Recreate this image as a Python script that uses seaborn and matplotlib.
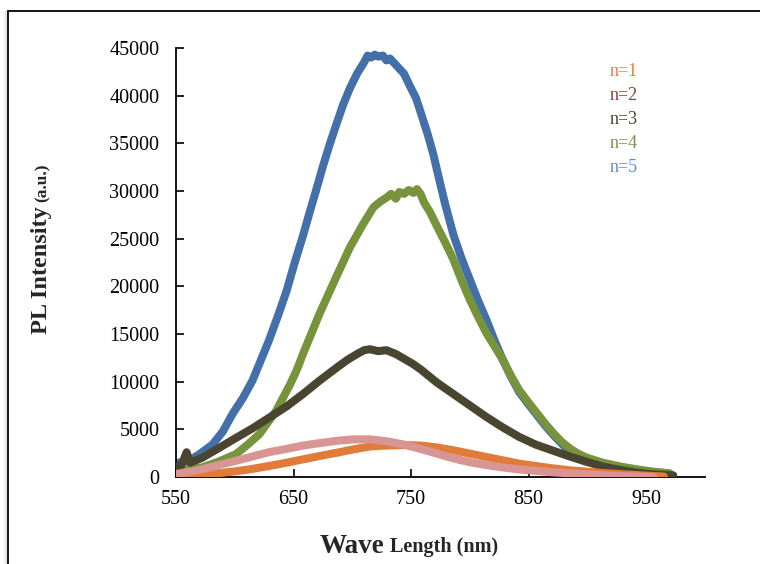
import numpy as np
import pandas as pd
import seaborn as sns
from matplotlib import pyplot as plt
from matplotlib.patches import Rectangle

# PL spectra (wavelength in nm, intensity in a.u.)
wl_n1 = [549, 551, 572, 586, 601, 615, 629, 644, 658, 672, 687, 701, 715, 729, 744, 758, 772,
         786, 800, 814, 828, 842, 856, 871, 885, 899, 913, 928, 942, 956, 965]
pl_n1 = [0, 50, 150, 400, 600, 850, 1150, 1500, 1850, 2200, 2550, 2900, 3200, 3300, 3350, 3300, 3100,
         2800, 2450, 2100, 1750, 1400, 1150, 900, 700, 560, 420, 300, 200, 100, 50]

wl_n2 = [549, 560, 572, 586, 601, 615, 629, 644, 658, 672, 687, 701, 715, 729, 744, 758, 772,
         786, 800, 814, 828, 842, 856, 871, 885, 899, 913, 928, 942, 956]
pl_n2 = [300, 500, 800, 1250, 1700, 2150, 2600, 2950, 3300, 3550, 3800, 3950, 3950, 3750, 3400, 2950, 2450,
         1950, 1550, 1250, 1000, 800, 640, 490, 380, 280, 190, 100, 50, 0]

wl_n3 = [549, 555, 559, 562, 572, 586, 601, 615, 629, 644, 658, 672, 687, 696, 704, 710, 715, 722,
         729, 737, 744, 751, 758, 765, 772, 786, 800, 814, 828, 842, 856, 871, 885, 899, 913, 928,
         942, 956, 973]
pl_n3 = [1000, 1300, 2600, 1500, 2000, 3000, 4100, 5100, 6200, 7400, 8700, 10100, 11500, 12300, 12900,
         13300, 13400, 13200, 13300, 12900, 12400, 11900, 11300, 10600, 9900, 8700, 7500, 6300, 5200,
         4200, 3400, 2750, 2150, 1600, 1100, 730, 450, 280, 170]

wl_n4 = [551, 561, 572, 586, 601, 611, 621, 628, 635, 641, 647, 653, 658, 665, 672, 679, 686, 692,
         698, 704, 709, 714, 718, 724, 729, 733, 737, 740, 744, 748, 752, 755, 758, 761, 766, 772,
         779, 786, 793, 800, 807, 814, 821, 828, 835, 842, 850, 857, 864, 871, 878, 885, 892, 899,
         913, 928, 942, 956, 970]
pl_n4 = [600, 800, 1000, 1600, 2400, 3400, 4500, 5700, 6900, 8300, 9700, 11300, 12900, 15000, 17100,
         19000, 20900, 22500, 24100, 25400, 26500, 27500, 28300, 28900, 29300, 29700, 29200, 29900,
         29700, 30100, 29800, 30200, 29700, 28800, 27800, 26300, 24600, 22800, 20600, 18600, 16800,
         15100, 13700, 12300, 10600, 9100, 7800, 6700, 5600, 4600, 3700, 3000, 2450, 2050, 1500,
         1100, 800, 560, 380]

wl_n5 = [552, 561, 570, 581, 590, 598, 607, 615, 622, 629, 637, 644, 651, 658, 664, 669, 675, 681,
         687, 692, 698, 704, 710, 713, 716, 719, 722, 726, 729, 732, 735, 738, 744, 749, 754, 758,
         764, 769, 772, 779, 786, 793, 800, 807, 814, 821, 828, 835, 842, 850, 857, 864, 871, 878,
         885, 892, 899, 913, 928, 942, 956, 970]
pl_n5 = [1500, 1700, 2400, 3400, 4800, 6600, 8300, 10100, 12200, 14300, 17000, 19500, 22500, 25300,
         27900, 30000, 32600, 35000, 37200, 39000, 40800, 42300, 43500, 44200, 44000, 44300, 44100,
         44200, 43700, 43900, 43500, 43100, 42300, 41000, 39800, 38300, 36000, 33800, 32200, 28600,
         25400, 22900, 20700, 18500, 16500, 14300, 12300, 10500, 8900, 7600, 6500, 5400, 4400, 3500,
         2700, 2200, 1850, 1350, 950, 700, 520, 360]

series = ['n=1', 'n=2', 'n=3', 'n=4', 'n=5']
line_colors = ['#E07B39', '#D99594', '#4A4530', '#77933C', '#4470AA']
text_colors = ['#EE7A30', '#953735', '#4A4530', '#77933C', '#558ED5']

frames = []
for name, wl, pl in zip(series, [wl_n1, wl_n2, wl_n3, wl_n4, wl_n5],
                        [pl_n1, pl_n2, pl_n3, pl_n4, pl_n5]):
    frames.append(pd.DataFrame({'wl': wl, 'pl': pl, 'n': name}))
df = pd.concat(frames, ignore_index=True)

sns.set_style('ticks')
plt.rcParams['font.family'] = ['Liberation Serif', 'DejaVu Serif']

fig = plt.figure(figsize=(7.6, 5.64), dpi=100)
ax = fig.add_axes([176 / 760, 1 - 477 / 564, 529 / 760, 429 / 564])

# draw order: blue, green, dark, orange, pink
z = {'n=5': 2, 'n=4': 3, 'n=3': 4, 'n=1': 5, 'n=2': 6}
for name, col in zip(series, line_colors):
    sns.lineplot(data=df[df.n == name], x='wl', y='pl', color=col, lw=5.8,
                 ax=ax, zorder=z[name], solid_capstyle='round', solid_joinstyle='round',
                 legend=False)

ax.set_xlim(550, 1000)
ax.set_ylim(0, 45000)
ax.set_xticks([550, 650, 750, 850, 950])
ax.set_yticks(np.arange(0, 45001, 5000))
ax.tick_params(direction='in', length=6, width=1.2, labelsize=14.5, colors='black')
ax.tick_params(axis='y', pad=12)
ax.tick_params(axis='x', pad=9)
sns.despine(ax=ax)
for s in ['left', 'bottom']:
    ax.spines[s].set_linewidth(1.3)
    ax.spines[s].set_color('black')
ax.set_xlabel('')
ax.set_ylabel('')

# text-only legend
for i, (name, col) in enumerate(zip(series, text_colors)):
    fig.text(610 / 760, 1 - (71 + 24 * i) / 564, name, color=col, fontsize=13,
             ha='left', va='center')

# axis titles with mixed sizes
t1 = fig.text(320 / 760, 1 - 553 / 564, 'Wave', fontsize=19.5, fontweight='bold',
              ha='left', va='baseline')
ax.annotate(' Length (nm)', xy=(1, 0), xycoords=t1, xytext=(0, 1.5),
            textcoords='offset points', fontsize=14.5, fontweight='bold',
            ha='left', va='bottom', annotation_clip=False)
t2 = fig.text(52 / 760, 1 - 334 / 564, 'PL Intensity', fontsize=17.5, fontweight='bold',
              rotation=90, ha='right', va='bottom')
ax.annotate('(a.u.)', xy=(1, 1), xycoords=t2, xytext=(-1.2, 3),
            textcoords='offset points', fontsize=12.5, fontweight='bold', rotation=90,
            ha='right', va='bottom', annotation_clip=False)

# outer chart frame with a soft shadow on the left
for k, a in enumerate([0.06, 0.10, 0.16, 0.25]):
    fig.patches.append(Rectangle(((3 + k) / 760, -0.1), 1 / 760, 1.1 - 11 / 564,
                                 transform=fig.transFigure, facecolor='gray', alpha=a,
                                 edgecolor='none'))
fig.patches.append(Rectangle((8 / 760, -0.1), 1.2, 1.1 - 11 / 564,
                             transform=fig.transFigure, fill=False, edgecolor='black', lw=1.3))

fig.savefig('out.png', dpi=100, facecolor='white')
